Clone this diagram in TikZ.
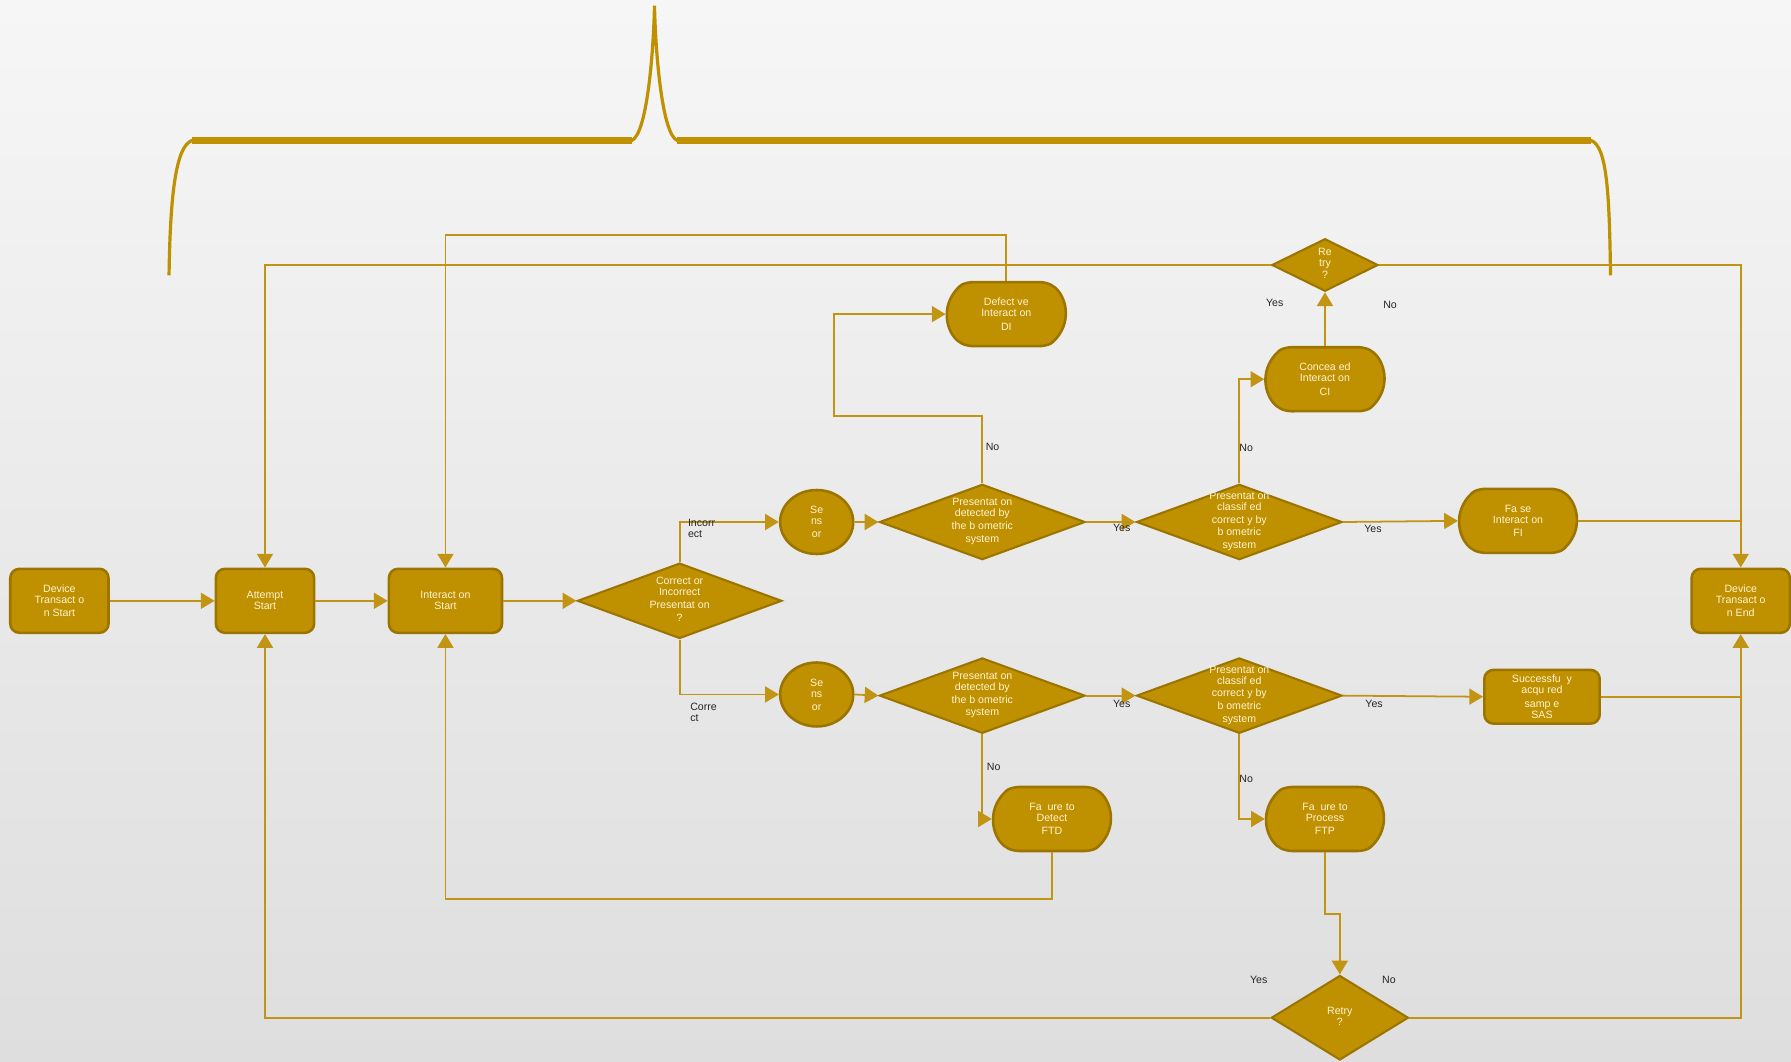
\documentclass[tikz,border=0pt]{standalone}
\usepackage{fontspec}
\setmainfont{Liberation Sans}
\usepackage{tikz}
\usetikzlibrary{arrows.meta,positioning,shapes.geometric,shapes.misc}
\definecolor{gold}{HTML}{BF9000}
\definecolor{goldedge}{HTML}{9C7400}
\definecolor{goldline}{HTML}{C29414}
\definecolor{boxtext}{HTML}{FFF4D2}
\definecolor{bgtop}{HTML}{F6F6F6}
\definecolor{bgbot}{HTML}{DEDEDE}
\tikzset{every picture/.style={line width=0.5pt}}
\tikzstyle{box}=[rectangle,rounded corners=0.2cm,draw=goldedge,fill=gold,line width=1.6pt,text=boxtext,align=center,inner sep=0pt,minimum width=2.15cm,minimum height=1.4cm,font=\fontsize{6.6}{6.9}\selectfont]
\tikzstyle{pill}=[box,rounded rectangle,rounded rectangle arc length=130,rounded corners=0.12cm,minimum width=2.6cm]
\tikzstyle{sens}=[box,ellipse,minimum width=1.6cm,minimum height=1.4cm]
\tikzstyle{dec}=[box,diamond,sharp corners,line width=1.3pt,minimum width=4.5cm,minimum height=1.65cm]
\tikzstyle{lab}=[font=\fontsize{6.6}{6.9}\selectfont,text=black!85,inner sep=0pt,align=left]
\tikzstyle{conn}=[draw=goldline,line width=1.1pt,-{Triangle[length=0.3cm,width=0.35cm]}]
\tikzstyle{wire}=[draw=goldline,line width=1.1pt]
\tikzstyle{topbrace}=[draw=gold,line width=0.07cm]
\newcommand{\dtxt}[1]{\raisebox{-.25em}[0pt][0pt]{\begin{tabular}{@{}c@{}}#1\end{tabular}}}
\begin{document}
\begin{tikzpicture}[x=0.025cm,y=-0.025cm]
\useasboundingbox (0,0) rectangle (1568,929);
\shade[top color=bgtop,bottom color=bgbot] (0,0) rectangle (1568,929);
% brace over the flow
\draw[topbrace] (148,241) .. controls (149,170) and (154,128) .. (168,123) -- (553,123)
  .. controls (566,118) and (572,50) .. (573,5) .. controls (574,50) and (580,118) .. (593,123)
  -- (1393,123) .. controls (1407,128) and (1409,170) .. (1410,241);
\draw[topbrace,line width=0.14cm] (168,123) -- (553,123) (593,123) -- (1393,123);

\node[box] (dts) at (52,526) {Device\\Transact o\\[1.3pt]n Start};
\node[box] (att) at (232,526) {Attempt\\Start};
\node[box,minimum width=2.475cm] (int) at (390,526) {Interact on\\Start};
\node[dec,minimum width=4.475cm] (cor) at (595,526) {\dtxt{Correct or\\Incorrect\\[1pt]Presentat on\\[1pt]?}};
\node[sens] (sen1) at (715,457) {Se\\ns\\[1.3pt]or};
\node[sens] (sen2) at (715,608) {Se\\ns\\[1.3pt]or};
\node[dec] (det1) at (860,457) {\dtxt{Presentat on\\detected by\\[1pt]the b ometric\\[1pt]system}};
\node[dec] (det2) at (860,609) {\dtxt{Presentat on\\detected by\\[1pt]the b ometric\\[1pt]system}};
\node[dec] (cls1) at (1085,457) {\dtxt{Presentat on\\classif ed\\[1pt]correct y by\\[1pt]b ometric\\[1pt]system}};
\node[dec] (cls2) at (1085,609) {\dtxt{Presentat on\\classif ed\\[1pt]correct y by\\[1pt]b ometric\\[1pt]system}};
\node[pill,minimum width=2.575cm] (fi) at (1329,456) {Fa se\\Interact on\\[1.3pt]FI};
\node[box,minimum width=2.525cm,minimum height=1.175cm] (sas) at (1350,610) {Successfu\ \ y\\acqu red\\[1.3pt]samp e\\SAS};
\node[box] (dte) at (1524,526) {Device\\Transact o\\[1.3pt]n End};
\node[pill] (di) at (881,275) {Defect ve\\Interact on\\[1.3pt]DI};
\node[pill] (ci) at (1160,332) {Concea ed\\Interact on\\[1.3pt]CI};
\node[dec,minimum width=2.325cm,minimum height=1.15cm] (rt1) at (1160,232) {\dtxt{Re\\try\\[1pt]?}};
\node[pill,minimum width=2.575cm] (ftd) at (921,717) {Fa\ \ ure to\\Detect\\[1.3pt]FTD};
\node[pill,minimum width=2.575cm] (ftp) at (1160,717) {Fa\ \ ure to\\Process\\[1.3pt]FTP};
\node[dec,minimum width=3cm,minimum height=1.85cm] (rt2) at (1173,891) {\dtxt{Retry\\?}};

\draw[conn] (dts) -- (att);
\draw[conn] (att) -- (int);
\draw[conn] (int) -- (cor);
\draw[conn] (cor.north) |- (sen1);
\draw[conn] (cor.south) |- (sen2);
\draw[conn] (sen1.east) -- (det1.west);
\draw[conn] (sen2.east) -- (det2.west);
\draw[conn] (det1.east) -- (cls1.west);
\draw[conn] (det2.east) -- (cls2.west);
\draw[conn] (cls1.east) -- (fi.west);
\draw[conn] (cls2.east) -- (sas.west);
\draw[wire] (fi.east) -- (fi.east -| dte.north);
\draw[wire] (sas.east) -- (sas.east -| dte.south);
\draw[conn] (det1.north) |- (730,364) |- (di.west);
\draw[conn] (det2.south) |- (ftd.west);
\draw[conn] (cls1.north) |- (ci.west);
\draw[conn] (cls2.south) |- (ftp.west);
\draw[conn] (ci.north) -- (rt1.south);
\draw[conn] (rt1.west) -| (att.north);
\draw[conn] (rt1.east) -| (dte.north);
\draw[conn] (di.north) -- (di.north |- 0,206) -| (int.north);
\draw[conn] (ftd.south) -- ++(0,41) -| (int.south);
\draw[conn] (ftp.south) -- ++(0,54) -| (rt2.north);
\draw[conn] (rt2.west) -| (att.south);
\draw[conn] (rt2.east) -| (dte.south);

\node[lab,anchor=west] (lInc) at (602,463) {Incorr\\ect};
\node[lab,anchor=west] (lCor) at (604,624) {Corre\\ct};
\node[lab] (lY1) at (982,462) {Yes};
\node[lab] (lY2) at (982,616) {Yes};
\node[lab] (lY3) at (1202,463) {Yes};
\node[lab] (lY4) at (1203,616) {Yes};
\node[lab] (lN1) at (869,391) {No};
\node[lab] (lN2) at (870,671) {No};
\node[lab] (lN3) at (1091,392) {No};
\node[lab] (lN4) at (1091,682) {No};
\node[lab] (lY5) at (1116,265) {Yes};
\node[lab] (lN5) at (1217,267) {No};
\node[lab] (lY6) at (1102,858) {Yes};
\node[lab] (lN6) at (1216,858) {No};
\end{tikzpicture}
\end{document}
